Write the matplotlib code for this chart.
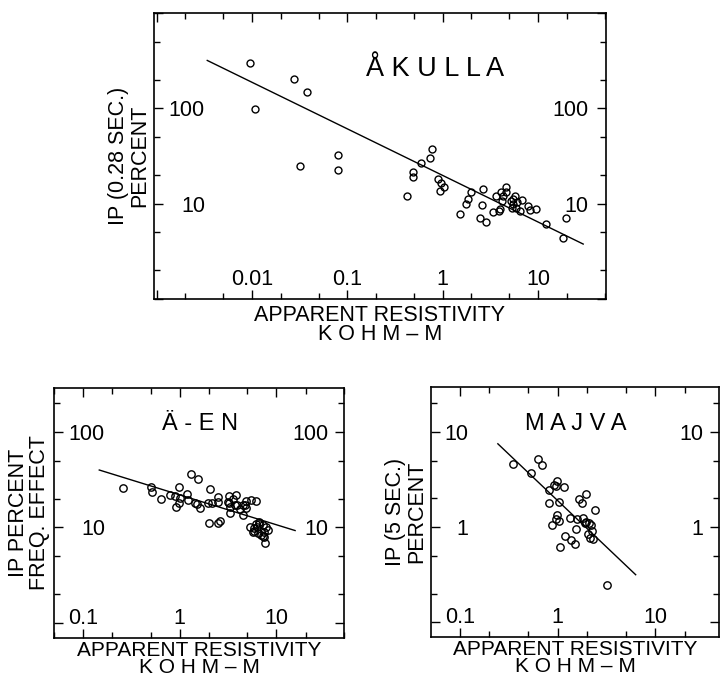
import matplotlib
matplotlib.use('Agg')
import matplotlib.pyplot as plt
from matplotlib.ticker import LogLocator, NullFormatter
from matplotlib.transforms import offset_copy

plt.rcParams['font.family'] = ['Liberation Sans', 'DejaVu Sans']

# --- Åkulla: IP (0.28 s) vs apparent resistivity
akulla_x = [0.0095, 0.0107, 0.0278, 0.038, 0.0321, 0.0793, 0.0793, 0.426, 0.492, 0.492,
            0.593, 0.736, 0.778, 0.887, 0.96, 1.03, 0.94, 1.50, 1.76, 1.82,
            1.97, 2.46, 2.85, 2.57, 2.63, 3.35, 3.93, 3.99, 3.63, 4.16,
            4.06, 4.58, 4.58, 4.33, 5.17, 5.51, 5.74, 5.51, 5.98, 5.38,
            5.89, 6.46, 6.74, 7.91, 8.24, 9.53, 12.1, 18.2, 19.7]
akulla_y = [301, 99, 201, 148, 25.1, 32.7, 22.3, 12.0, 21.5, 19.1,
            26.5, 30.2, 37.2, 18.1, 16.4, 15.1, 13.5, 7.8, 10.0, 11.3,
            13.3, 7.05, 6.35, 9.8, 14.2, 8.2, 8.3, 8.75, 12.1, 10.7,
            13.1, 15.1, 13.3, 11.9, 10.7, 11.1, 12.1, 9.9, 10.4, 9.1,
            8.97, 8.4, 10.9, 9.5, 8.55, 8.75, 6.05, 4.32, 7.1]
akulla_fit_x = [0.0034, 29.7]
akulla_fit_y = [318, 3.77]

# --- Ä-En: frequency effect vs apparent resistivity
aen_x = [0.256, 0.499, 0.519, 0.647, 0.80, 0.90, 0.977, 0.925, 0.98, 1.0,
         1.19, 1.22, 1.31, 1.53, 1.45, 1.61, 1.52, 2.07, 1.96, 2.17,
         2.01, 2.48, 2.58, 2.48, 2.5, 3.22, 3.78, 3.15, 3.55, 3.28,
         3.75, 3.28, 4.22, 4.5, 4.68, 4.87, 5.4, 6.17, 4.87, 5.27,
         5.7, 6.26, 6.17, 6.68, 7.22, 7.83, 6.42, 6.95, 7.52, 7.7,
         7.52, 8.13, 5.83, 3.22, 3.9, 4.5, 5.93, 7.22, 6.68]
aen_y = [25.9, 26.4, 23.4, 19.7, 21.9, 21.5, 26.4, 16.3, 17.9, 20.2,
         22.3, 19.4, 36.0, 32.2, 18.2, 16.1, 17.6, 25.1, 18.2, 18.2,
         11.1, 11.2, 11.8, 21.0, 18.6, 21.5, 21.9, 18.6, 19.7, 16.5,
         17.2, 14.1, 15.5, 13.5, 17.2, 19.0, 19.4, 19.1, 15.9, 10.2,
         9.05, 10.0, 10.9, 11.5, 10.6, 10.2, 8.7, 8.3, 9.05, 6.9,
         8.0, 9.4, 9.8, 17.9, 17.2, 17.2, 9.2, 8.15, 10.8]
aen_fit_x = [0.147, 15.6]
aen_fit_y = [40, 9.27]

# --- Majva: IP (5 s) vs apparent resistivity
majva_x = [0.348, 0.537, 0.628, 0.697, 0.81, 0.815, 0.88, 0.917, 0.98, 0.97,
           1.03, 0.98, 1.03, 0.97, 1.06, 1.15, 1.18, 1.38, 1.52, 1.35,
           1.53, 1.58, 1.65, 1.79, 1.82, 1.89, 1.97, 1.94, 2.1, 2.21,
           2.05, 2.13, 2.25, 2.3, 2.39, 3.23]
majva_y = [4.55, 3.66, 5.22, 4.44, 2.48, 1.80, 1.06, 2.8, 3.03, 2.69,
           1.82, 1.35, 1.15, 1.22, 0.62, 2.62, 0.80, 0.726, 0.67, 1.25,
           0.96, 1.22, 1.95, 1.80, 1.25, 1.11, 2.25, 1.12, 1.11, 1.06,
           0.85, 0.77, 0.9, 0.75, 1.53, 0.248]
majva_fit_x = [0.244, 6.3]
majva_fit_y = [7.5, 0.316]

# tick labels written inside the frame
akulla_xticks = [0.01, 0.1, 1, 10]
akulla_xlabels = ['0.01', '0.1', '1', '10']
akulla_yticks = [10, 100]
akulla_ylabels = ['10', '100']
aen_xticks = [0.1, 1, 10]
aen_xlabels = ['0.1', '1', '10']
aen_yticks = [10, 100]
aen_ylabels = ['10', '100']
majva_xticks = [0.1, 1, 10]
majva_xlabels = ['0.1', '1', '10']
majva_yticks = [1, 10]
majva_ylabels = ['1', '10']

FS = 15.5
XLABEL = 'APPARENT RESISTIVITY\nK O H M \u2013 M'

fig = plt.figure(figsize=(7.2, 6.83), dpi=100)


def panel(rect, x, y, fx, fy, xlim, ylim, xt, xl, yt, yl,
          title, title_fs, title_pos, ylabel, left_off, right_off, ms,
          xpad, xls, xfs):
    ax = fig.add_axes(rect)
    ax.set_xscale('log')
    ax.set_yscale('log')
    ax.plot(x, y, 'o', ms=ms, mfc='none', mec='black', mew=1.0)
    ax.plot(fx, fy, '-', color='black', lw=1.0)
    ax.set_xlim(*xlim)
    ax.set_ylim(*ylim)

    for axis in (ax.xaxis, ax.yaxis):
        axis.set_major_locator(LogLocator(base=10, numticks=20))
        axis.set_minor_locator(LogLocator(base=10, subs=(2, 5), numticks=20))
        axis.set_minor_formatter(NullFormatter())
    ax.tick_params(which='both', direction='in', top=True, right=True,
                   labelbottom=False, labelleft=False, width=1.0)
    ax.tick_params(which='major', length=6.5)
    ax.tick_params(which='minor', length=4)
    for s in ax.spines.values():
        s.set_linewidth(1.2)

    # labels inside the frame
    ytr = ax.get_yaxis_transform()
    xtr = ax.get_xaxis_transform()
    for v, s in zip(yt, yl):
        ax.text(0, v, s, fontsize=FS, ha='right', va='baseline',
                transform=offset_copy(ytr, fig, x=left_off, y=-8, units='dots'))
        ax.text(1, v, s, fontsize=FS, ha='right', va='baseline',
                transform=offset_copy(ytr, fig, x=-right_off, y=-8, units='dots'))
    for v, s in zip(xt, xl):
        ax.text(v, 0, s, fontsize=FS, ha='center', va='baseline',
                transform=offset_copy(xtr, fig, x=0, y=14, units='dots'))

    ax.text(title_pos[0], title_pos[1], title, fontsize=title_fs,
            ha='center', va='baseline', transform=ax.transAxes)
    ax.set_xlabel(XLABEL, fontsize=xfs, linespacing=xls, labelpad=xpad)
    ax.set_ylabel(ylabel, fontsize=FS, linespacing=1.0, labelpad=3)
    return ax


panel([154 / 720, 1 - 299 / 683, 452 / 720, 286 / 683],
      akulla_x, akulla_y, akulla_fit_x, akulla_fit_y,
      (0.00094, 51.5), (1, 1000),
      akulla_xticks, akulla_xlabels, akulla_yticks, akulla_ylabels,
      'Å K U L L A', 19.5, (0.622, 0.78),
      'IP (0.28 SEC.)\nPERCENT', 51, 18, 5, 4, 0.92, FS)

panel([54 / 720, 1 - 637.5 / 683, 290 / 720, 249.5 / 683],
      aen_x, aen_y, aen_fit_x, aen_fit_y,
      (0.05, 50), (0.7, 290),
      aen_xticks, aen_xlabels, aen_yticks, aen_ylabels,
      'Ä - E N', 17, (0.503, 0.832),
      'IP PERCENT\nFREQ. EFFECT', 51, 16, 5.3, 2.5, 0.85, 15)

panel([431 / 720, 1 - 637 / 683, 288 / 720, 250.5 / 683],
      majva_x, majva_y, majva_fit_x, majva_fit_y,
      (0.0504, 45), (0.07, 30),
      majva_xticks, majva_xlabels, majva_yticks, majva_ylabels,
      'M A J V A', 17, (0.503, 0.826),
      'IP (5 SEC.)\nPERCENT', 37, 16, 5.3, 2.5, 0.85, 15)

fig.savefig('out.png', dpi=100)
